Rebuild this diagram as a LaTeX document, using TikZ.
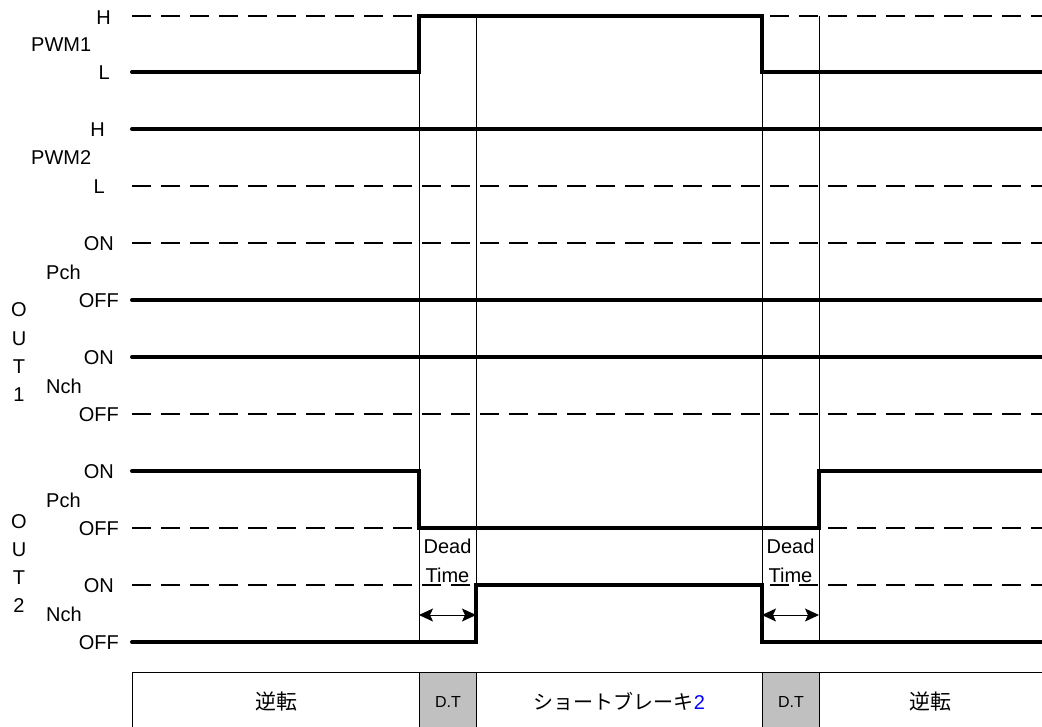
\documentclass[tikz,border=0pt]{standalone}
\usepackage{fontspec}
\setmainfont{Liberation Sans}
\newfontfamily\jpfont{Noto Sans CJK JP}
\usetikzlibrary{arrows.meta}
\definecolor{dtgray}{HTML}{C0C0C0}
\definecolor{numblue}{HTML}{0000FF}
\begin{document}
\begin{tikzpicture}[
    x=1pt, y=-1pt,
    every node/.style={inner sep=0pt, font=\fontsize{20}{24}\selectfont},
    sig/.style={line width=4pt, line cap=round},
    idle/.style={line width=2pt, dash pattern=on 19pt off 10pt},
    guide/.style={line width=0.8pt},
    lvl/.style={anchor=east},
    sname/.style={anchor=west},
    cell/.style={draw, line width=1pt, anchor=north west, minimum height=58pt},
    dtcell/.style={cell, fill=dtgray, minimum width=57pt, font=\fontsize{16}{18}\selectfont},
    dtarrow/.style={{Stealth[length=14pt,width=13pt,inset=3pt]}-{Stealth[length=14pt,width=13pt,inset=3pt]}, line width=1pt}
]
    \useasboundingbox (0,0) rectangle (1042,726);

    % edge times
    \coordinate (t1) at (419,0);
    \coordinate (t2) at (476,0);
    \coordinate (t3) at (762,0);
    \coordinate (t4) at (819,0);

    % guide lines
    \foreach \t in {t1,t2,t3,t4}
        \draw[guide] (\t |- 0,16) -- (\t |- 0,642);

    % PWM1
    \draw[idle] (132,16) -- (419,16);
    \draw[idle, dash phase=21pt] (762,16) -- (1042,16);
    \draw[sig] (132,72) -- (419,72) -- (419,16) -- (762,16) -- (762,72) -- (1042,72);
    % PWM2
    \draw[sig] (132,129) -- (1042,129);
    \draw[idle] (132,186) -- (1042,186);
    % OUT1 Pch / Nch
    \draw[idle] (132,243) -- (1042,243);
    \draw[sig] (132,300) -- (1042,300);
    \draw[sig] (132,357) -- (1042,357);
    \draw[idle] (132,414) -- (1042,414);
    % OUT2 Pch
    \draw[idle] (132,528) -- (419,528);
    \draw[idle, dash phase=20pt] (819,528) -- (1042,528);
    \draw[sig] (132,471) -- (419,471) -- (419,528) -- (819,528) -- (819,471) -- (1042,471);
    % OUT2 Nch
    \draw[idle] (132,585) -- (476,585);
    \draw[idle, dash phase=21pt] (762,585) -- (1042,585);
    \draw[sig] (132,642) -- (476,642) -- (476,585) -- (762,585) -- (762,642) -- (1042,642);

    % dead time
    \node (dead1) at (447.5,546) {Dead};
    \node (time1) at (447.5,575) {Time};
    \node (dead2) at (790.5,546) {Dead};
    \node (time2) at (790.5,575) {Time};
    \draw[dtarrow] (t1 |- 0,615) -- (t2 |- 0,615);
    \draw[dtarrow] (t3 |- 0,615) -- (t4 |- 0,615);

    % level labels
    \node[lvl] (pwm1h) at (111,18) {H};
    \node[lvl] (pwm1l) at (110,73) {L};
    \node[lvl] (pwm2h) at (105,130) {H};
    \node[lvl] (pwm2l) at (105,187) {L};
    \node[lvl] (o1pon) at (114,244) {ON};
    \node[lvl] (o1poff) at (119,301) {OFF};
    \node[lvl] (o1non) at (114,358) {ON};
    \node[lvl] (o1noff) at (119,415) {OFF};
    \node[lvl] (o2pon) at (114,472) {ON};
    \node[lvl] (o2poff) at (119,529) {OFF};
    \node[lvl] (o2non) at (114,586) {ON};
    \node[lvl] (o2noff) at (119,643) {OFF};

    % signal names
    \node[sname] (pwm1) at (31,45) {PWM1};
    \node[sname] (pwm2) at (31,158) {PWM2};
    \node[sname] (o1p) at (46,272) {Pch};
    \node[sname] (o1n) at (46,386) {Nch};
    \node[sname] (o2p) at (46,500) {Pch};
    \node[sname] (o2n) at (46,614) {Nch};
    \foreach \c [count=\i] in {O,U,T,1}
        \node (out1c\i) at (19,{281.7+28.3*\i}) {\c};
    \foreach \c [count=\i] in {O,U,T,2}
        \node (out2c\i) at (19,{494+28*\i}) {\c};

    % mode row
    \node[cell, minimum width=287pt] (rev1) at (132,672) {\jpfont\fontsize{21}{24}\selectfont 逆転};
    \node[dtcell] (dt1) at (419,672) {D.T};
    \node[cell, minimum width=286pt] (brake) at (476,672) {\jpfont ショートブレーキ{\color{numblue}\rmfamily 2}};
    \node[dtcell] (dt2) at (762,672) {D.T};
    \node[cell, minimum width=240pt] (rev2) at (819,672) {\hspace*{-18pt}\jpfont\fontsize{21}{24}\selectfont 逆転};
\end{tikzpicture}
\end{document}
